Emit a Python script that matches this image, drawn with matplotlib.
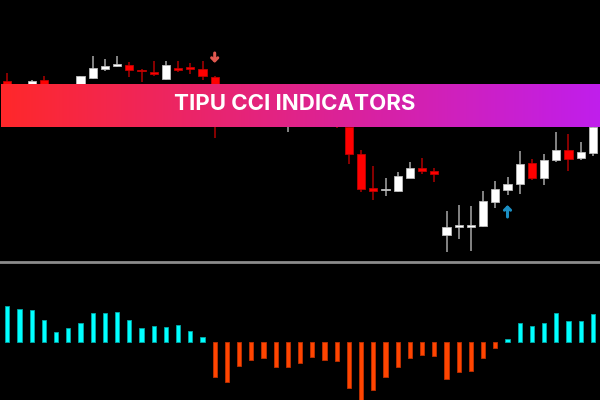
import numpy as np
import matplotlib
matplotlib.use("Agg")
import matplotlib.pyplot as plt

# price candles (top panel), arbitrary price units
opens = [179, 168, 172, 180, 170, 171, 172, 182.3, 191.3, 193.7, 195, 189.5, 187.7, 180.7, 191.3, 193.3, 191,
         183.3, 160, 150, 156, 148, 142, 140, 146, 140, 136, 140,
         133, 106, 71.7, 69.8, 69.3, 82.3, 91.7, 89, 25, 33, 33.3, 34.3, 58, 70, 75.7, 96.7, 81.7, 99.7, 110.3, 102.3, 106.7]
highs = [186.7, 175, 180, 184.3, 174, 175.5, 184.5, 204.3, 200.7, 204, 198, 190.7, 198.7, 198.7, 199.3, 197.3, 199.3,
         184, 162, 160, 158, 150, 152, 150, 148, 143, 144, 142,
         134, 110, 94.3, 82.3, 87.7, 98.3, 102.3, 92.3, 49, 55, 54, 69, 78.7, 82.7, 109, 101, 106.3, 128, 126, 118, 136]
lows = [170, 164, 168, 170, 164, 166, 170, 181.3, 189.3, 193, 183.3, 178.3, 184, 180, 188, 186, 180,
        122.3, 146, 147, 144, 138, 140, 128.3, 136, 133, 133, 132.5,
        95.7, 68.3, 60, 64, 68.3, 81.7, 85.7, 78.3, 7.7, 21, 9.3, 33, 51.7, 65, 66, 80, 75, 98.3, 89.3, 100, 104]
closes = [174, 173, 179.3, 174, 172, 175, 183.7, 191.7, 193.7, 196, 190, 188.8, 185.7, 195, 190, 190.7, 184.3,
          160, 150, 156, 148, 142, 148, 146, 140, 136, 140, 134,
          106.3, 71.3, 69.3, 70.2, 83.7, 92.3, 89.3, 86.3, 33.3, 34, 35, 58.7, 71, 76.3, 96.3, 81.7, 99.7, 110.3, 101.3, 107.7, 133]

# signal arrows: (bar index, tail level, tip level)
sell_arrow = (17, 207, 197)
buy_arrow = (41, 43, 55)

# CCI histogram (bottom panel)
cci = [36, 32.3, 31.3, 21.3, 10, 14, 18.3, 29, 28.3, 29.7, 21.3, 14, 15.3, 14.7, 17, 11, 4.5,
       -35.7, -40.7, -24, -18.7, -16.3, -25.7, -25, -21, -15.7, -18, -19, -46, -60, -48.3, -35.7,
       -25, -16.7, -13.3, -14, -37, -30, -29.3, -16.7, -6.7,
       3, 18.3, 16, 18.3, 28.3, 20.7, 20.7, 27.7]

title = "TIPU CCI INDICATORS"

n = len(opens)
x = np.arange(n)
xlim = (-7.3 / 12.2, (600 - 7.3) / 12.2)

fig = plt.figure(figsize=(6, 4), dpi=100, facecolor="black")

# --- price panel ---
ax = fig.add_axes([0, 0.3475, 1, 0.6525])
ax.set_facecolor("black")
o = np.array(opens)
c = np.array(closes)
up = c >= o
for i in range(n):
    wick_col = "#9a9a9a" if up[i] else "#a00000"
    ax.vlines(x[i], lows[i], highs[i], color=wick_col, lw=1.2, zorder=1)
    bottom = min(o[i], c[i])
    h = max(abs(c[i] - o[i]), 1.6)
    if up[i]:
        ax.bar(x[i], h, bottom=bottom, width=0.68, color="white", edgecolor="#bbbbbb", lw=0.6, zorder=2)
    else:
        ax.bar(x[i], h, bottom=bottom, width=0.68, color="#ff0000", edgecolor="#c00000", lw=0.6, zorder=2)

for (ai, tail, tip), col in [(sell_arrow, "#e0584f"), (buy_arrow, "#1b8fc4")]:
    ax.annotate("", xy=(ai, tip), xytext=(ai, tail),
                arrowprops=dict(arrowstyle="->,head_width=0.22,head_length=0.22", color=col, lw=2.2,
                                shrinkA=0, shrinkB=0))

ax.set_xlim(xlim)
ax.set_ylim(-1, 260)
ax.axis("off")

# --- CCI panel ---
ax2 = fig.add_axes([0, 0, 1, 0.3475])
ax2.set_facecolor("black")
cols = ["#00ffff" if v >= 0 else "#ff4500" for v in cci]
edges = ["#00a8a8" if v >= 0 else "#c03000" for v in cci]
ax2.bar(x, cci, width=0.33, color=cols, edgecolor=edges, lw=0.6)
ax2.axhline(79.5, color="#8c8c8c", lw=2)
ax2.set_xlim(xlim)
ax2.set_ylim(-58.5, 80.5)
ax2.axis("off")

# --- banner ---
bx = fig.add_axes([0.002, 272.5 / 400, 0.998, 44 / 400])
left = np.array([255, 40, 42]) / 255
right = np.array([192, 30, 236]) / 255
t = np.linspace(0, 1, 256)
grad = left[None, :] * (1 - t[:, None]) + right[None, :] * t[:, None]
bx.imshow(grad[None, :, :], aspect="auto", extent=(0, 1, 0, 1))
bx.set_xlim(0, 1)
bx.set_ylim(0, 1)
bx.axis("off")
bx.text(0.49, 0.53, title, color="white", fontsize=16, fontweight="bold",
        family=["Inter", "DejaVu Sans"], ha="center", va="center")

fig.savefig("out.png", dpi=100, facecolor="black")
